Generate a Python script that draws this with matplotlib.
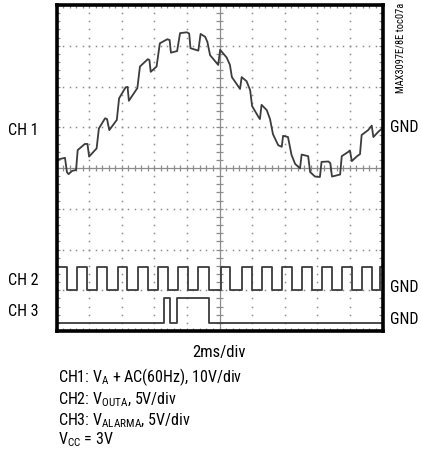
import numpy as np
import matplotlib
matplotlib.use("Agg")
import matplotlib.pyplot as plt

plt.rcParams['font.family'] = ['Roboto Condensed', 'DejaVu Sans']
plt.rcParams['mathtext.default'] = 'regular'

# Scope screen in divisions: x 0..10 (2ms/div), y 0..8
# CH1 trace
ch1_x = [0.00, 0.26, 0.32, 0.37, 0.48, 0.60, 0.65, 0.87, 0.95, 1.00,
         1.23, 1.30, 1.49, 1.55, 1.62, 1.85, 1.92, 2.12, 2.18, 2.22,
         2.48, 2.56, 2.80, 2.85, 2.89, 3.07, 3.17, 3.40, 3.47, 3.51,
         3.70, 3.79, 4.00, 4.07, 4.11, 4.35, 4.42, 4.56, 4.63, 4.71,
         4.96, 5.02, 5.22, 5.32, 5.38, 5.63, 5.68, 5.83, 5.94, 6.00,
         6.19, 6.24, 6.29, 6.45, 6.55, 6.64, 6.80, 6.91, 6.95, 7.10,
         7.21, 7.32, 7.47, 7.52, 7.72, 7.78, 7.93, 8.08, 8.13, 8.34,
         8.40, 8.45, 8.70, 8.75, 8.94, 9.00, 9.06, 9.22, 9.31, 9.36,
         9.56, 9.67, 9.72, 9.86, 10.0]
ch1_y = [4.20, 4.25, 3.90, 3.85, 3.93, 3.95, 4.44, 4.59, 4.59, 4.28,
         4.48, 4.97, 5.22, 5.20, 4.93, 5.18, 5.71, 5.98, 5.99, 5.65,
         5.96, 6.49, 6.67, 6.65, 6.36, 6.49, 7.06, 7.16, 7.14, 6.83,
         6.87, 7.31, 7.33, 7.30, 6.94, 6.88, 7.29, 7.22, 7.09, 6.77,
         6.53, 6.90, 6.71, 6.53, 6.23, 5.94, 6.23, 6.13, 5.91, 5.52,
         5.26, 5.20, 5.55, 5.42, 5.20, 4.83, 4.56, 4.52, 4.79, 4.76,
         4.32, 4.10, 3.99, 4.33, 4.29, 3.90, 3.79, 3.78, 4.15, 4.16,
         4.12, 3.79, 3.84, 4.29, 4.39, 4.43, 4.17, 4.29, 4.34, 4.81,
         4.93, 5.04, 4.76, 4.88, 4.98]

# CH2 (VOUTA) edge times, starts high
ch2_edges = [0.31, 0.62, 0.93, 1.23, 1.54, 1.90, 2.15, 2.51, 2.82, 3.12,
             3.43, 3.74, 4.04, 4.35, 4.69, 5.04, 5.32, 5.68, 5.99, 6.29,
             6.60, 6.91, 7.21, 7.52, 7.83, 8.13, 8.44, 8.75, 9.06, 9.36,
             9.67, 9.92]
ch2_low, ch2_high = 1.0, 1.58

# CH3 (VALARMA) edge times, starts low
ch3_edges = [3.31, 3.47, 3.71, 4.69]
ch3_low, ch3_high = 0.2, 0.82

ch_labels = ["CH 1", "CH 2", "CH 3"]
ch_label_y = [4.91, 1.25, 0.47]
gnd_y = [4.99, 1.06, 0.27]

notes = ["CH1: V$_A$ + AC(60Hz), 10V/div",
         "CH2: V$_{OUTA}$, 5V/div",
         "CH3: V$_{ALARMA}$, 5V/div",
         "V$_{CC}$ = 3V"]
note_baselines = [382.5, 404, 425.5, 444]


def square(edges, lo, hi, start_high):
    xs = [0.0] + list(edges) + [10.0]
    ys = []
    state = start_high
    for i in range(len(edges) + 1):
        ys.append(hi if state else lo)
        state = not state
    ys.append(ys[-1])
    return xs, ys


W, H = 421, 453
fig = plt.figure(figsize=(W / 100, H / 100), dpi=100)
ax = fig.add_axes([56.5 / W, 1 - 331 / H, 326 / W, 326 / H])
ax.set_xlim(0, 10)
ax.set_ylim(0, 8)

gc = '#8c8c8c'
# dotted graticule
for v in range(1, 10):
    if v != 5:
        yy = np.arange(0, 8.01, 0.2)
        ax.plot([v] * len(yy), yy, ls='none', marker='s', ms=1.1, mew=0, color=gc)
for h in range(1, 8):
    if h != 4:
        xx = np.arange(0, 10.01, 0.2)
        ax.plot(xx, [h] * len(xx), ls='none', marker='s', ms=1.1, mew=0, color=gc)

# centre axes with tick marks
ax.axhline(4, color=gc, lw=0.9)
ax.axvline(5, color=gc, lw=0.9)
tx = np.arange(0, 10.01, 0.2)
ty = np.arange(0, 8.01, 0.2)
ax.vlines(tx, 4 - 0.08, 4 + 0.08, color=gc, lw=0.9)
ax.hlines(ty, 5 - 0.1, 5 + 0.1, color=gc, lw=0.9)
# border ticks
ax.vlines(tx, 0, 0.08, color=gc, lw=0.9)
ax.vlines(tx, 8 - 0.08, 8, color=gc, lw=0.9)
ax.hlines(ty, 0, 0.1, color=gc, lw=0.9)
ax.hlines(ty, 10 - 0.1, 10, color=gc, lw=0.9)

tc = '#3c3c3c'
ax.plot(ch1_x, ch1_y, color=tc, lw=1.3)
x2, y2 = square(ch2_edges, ch2_low, ch2_high, True)
ax.step(x2, y2, where='post', color=tc, lw=1.3)
x3, y3 = square(ch3_edges, ch3_low, ch3_high, False)
ax.step(x3, y3, where='post', color=tc, lw=1.3)

ax.set_xticks([])
ax.set_yticks([])
for s in ax.spines.values():
    s.set_linewidth(2.6)
    s.set_color('black')

fs = 11.5
for lab, y in zip(ch_labels, ch_label_y):
    ax.text(-1.49, y, lab, fontsize=fs, ha='left', va='center', clip_on=False)
for y in gnd_y:
    ax.text(10.23, y, "GND", fontsize=fs, ha='left', va='center', clip_on=False)

fig.text(400 / W, 1 - 3 / H, "MAX3097E/8E toc07a", fontsize=7.5, rotation=90,
         ha='center', va='top')
fig.text(219 / W, 1 - 357 / H, "2ms/div", fontsize=12, ha='center', va='baseline')
for n, yb in zip(notes, note_baselines):
    fig.text(58 / W, 1 - yb / H, n, fontsize=11.5, ha='left', va='baseline')

plt.savefig("out.png", dpi=100)
